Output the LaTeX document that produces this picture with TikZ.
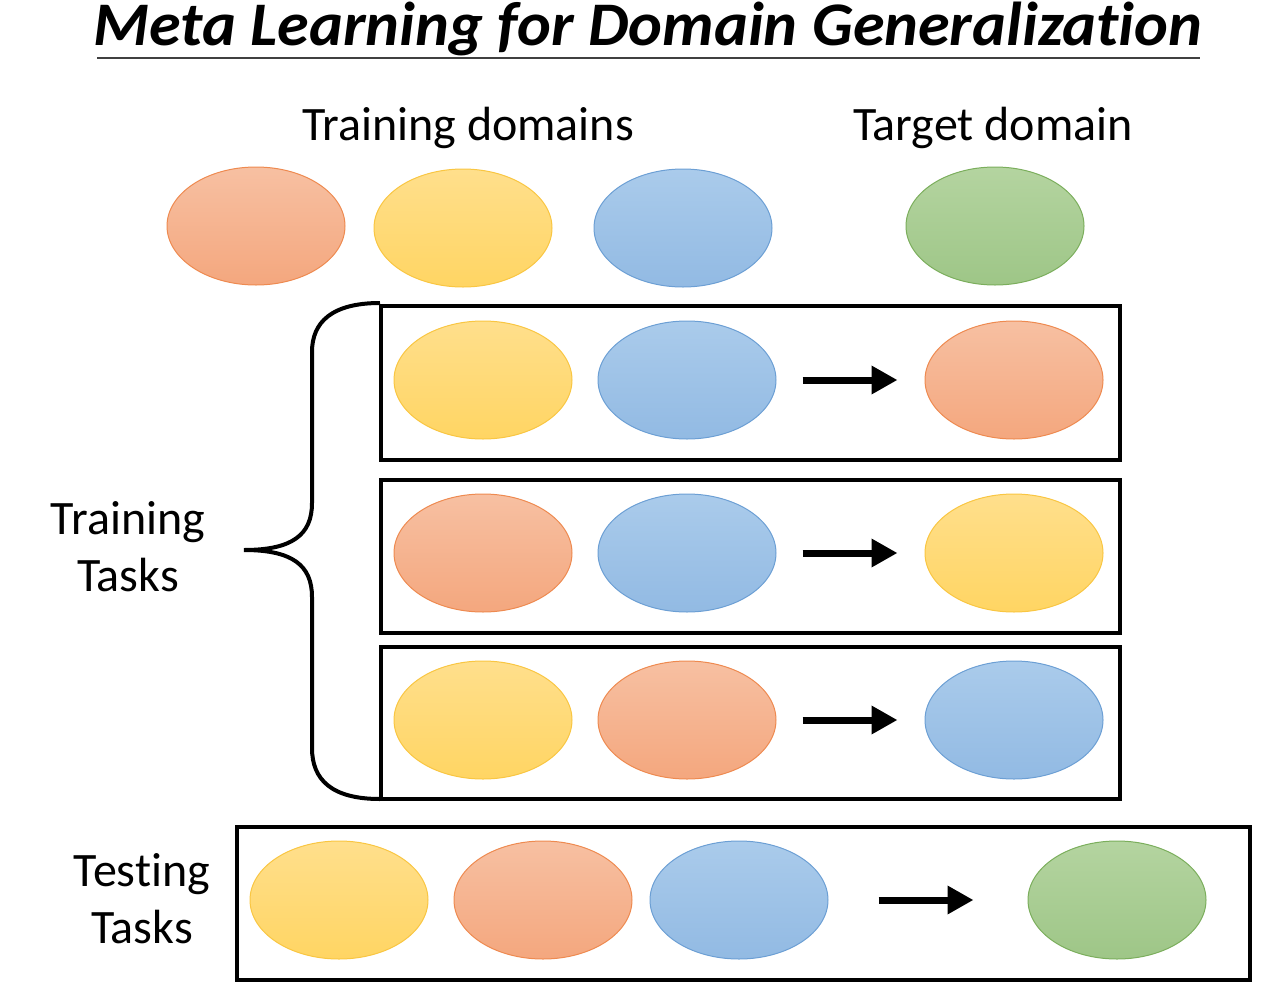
\documentclass[tikz,border=0pt]{standalone}
\usepackage{fontspec}
\setmainfont{Carlito}[Ligatures=CommonOff]
\usetikzlibrary{shapes.geometric, arrows.meta}
\definecolor{ortop}{HTML}{F7C0A2}
\definecolor{orbot}{HTML}{F4A77E}
\definecolor{orline}{HTML}{EE8A50}
\definecolor{yetop}{HTML}{FFDF8C}
\definecolor{yebot}{HTML}{FFD563}
\definecolor{yeline}{HTML}{F9C642}
\definecolor{bltop}{HTML}{AACBEB}
\definecolor{blbot}{HTML}{92BAE3}
\definecolor{blline}{HTML}{6C9FD4}
\definecolor{grtop}{HTML}{B4D4A0}
\definecolor{grbot}{HTML}{9EC687}
\definecolor{grline}{HTML}{7BAE5C}

\begin{document}
\begin{tikzpicture}[x=1pt, y=-1pt,
  dom/.style={ellipse, draw=#1line, line width=1pt, top color=#1top, bottom color=#1bot,
              minimum width=178pt, minimum height=118pt, inner sep=0pt},
  lab/.style={font=\fontsize{48}{57}\selectfont, align=center},
  flow/.style={line width=7pt, -{Triangle[length=26pt,width=27pt]}},
  box/.style={line width=4pt}]
\useasboundingbox (0,0) rectangle (1278,991);
% title
\node[anchor=base, inner sep=0pt] (title) at (648,45)
  {\scalebox{1.035}[1]{\fontsize{62}{64}\selectfont\bfseries\itshape Meta Learning for Domain Generalization}};
\draw[line width=2.5pt, black!75] (97,58) -- (1200,58);
% domains
\node[lab] (trdom) at (468,128) {Training domains};
\node[lab] (tgdom) at (993,128) {Target domain};
\node[dom=or] (d1) at (256,226) {};
\node[dom=ye] (d2) at (463,228) {};
\node[dom=bl] (d3) at (683,228) {};
\node[dom=gr] (d4) at (995,226) {};
% training tasks
\draw[box] (381,306) rectangle (1120,460);
\draw[box] (381,480) rectangle (1120,633);
\draw[box] (381,647) rectangle (1120,799);
\node[dom=ye] (a1) at (483,380) {};
\node[dom=bl] (a2) at (687,380) {};
\node[dom=or] (a3) at (1014,380) {};
\node[dom=or] (b1) at (483,553) {};
\node[dom=bl] (b2) at (687,553) {};
\node[dom=ye] (b3) at (1014,553) {};
\node[dom=ye] (c1) at (483,720) {};
\node[dom=or] (c2) at (687,720) {};
\node[dom=bl] (c3) at (1014,720) {};
\foreach \r in {a,b,c}
  \draw[flow, shorten <=26pt, shorten >=27pt] (\r2) -- (\r3);
\draw[box] (380,303) .. controls (332,303) and (312,322) .. (312,352)
  -- (312,503) .. controls (312,535) and (292,550) .. (244,550)
  .. controls (292,550) and (312,565) .. (312,597)
  -- (312,748) .. controls (312,780) and (332,799) .. (380,799);
\node[lab] (trtask) at (128,547) {Training\\Tasks};
% testing task
\draw[box] (237,827) rectangle (1250,980);
\node[dom=ye] (t1) at (339,900) {};
\node[dom=or] (t2) at (543,900) {};
\node[dom=bl] (t3) at (739,900) {};
\node[dom=gr] (t4) at (1117,900) {};
\draw[flow, shorten <=50pt, shorten >=54pt] (t3) -- (t4);
\node[lab] (tetask) at (142,899) {Testing\\Tasks};
\end{tikzpicture}
\end{document}
